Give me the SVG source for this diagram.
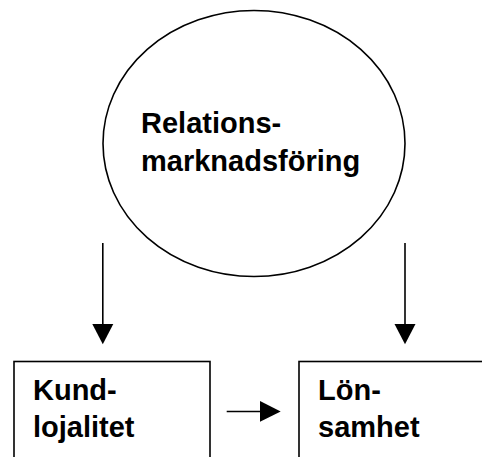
<svg xmlns="http://www.w3.org/2000/svg" width="482" height="457" viewBox="0 0 482 457">
  <style>
    .shape { fill: #ffffff; stroke: #000000; stroke-width: 1.6; }
    .label { font-family: "Liberation Sans", Arial, sans-serif; font-weight: bold; font-size: 29px; fill: #000000; }
    .link { stroke: #000000; stroke-width: 1.6; fill: none; }
    .head { fill: #000000; stroke: none; }
  </style>
  <rect width="482" height="457" fill="#ffffff"/>

  <g id="relationsmarknadsforing">
    <ellipse class="shape" cx="254" cy="143.5" rx="151" ry="133"/>
    <text class="label" x="141" y="133">Relations-</text>
    <text class="label" x="141" y="170.5">marknadsföring</text>
  </g>

  <g id="kundlojalitet">
    <rect class="shape" x="14" y="361.5" width="196" height="110"/>
    <text class="label" x="33" y="400">Kund-</text>
    <text class="label" x="33" y="436.5">lojalitet</text>
  </g>

  <g id="lonsamhet">
    <rect class="shape" x="299" y="361.5" width="200" height="110"/>
    <text class="label" x="318" y="400">Lön-</text>
    <text class="label" x="318" y="436.5">samhet</text>
  </g>

  <g id="connectors">
    <line class="link" x1="102.8" y1="243" x2="102.8" y2="326"/>
    <polygon class="head" points="92.3,324 113.3,324 102.8,344.3"/>
    <line class="link" x1="405" y1="243" x2="405" y2="326"/>
    <polygon class="head" points="394.5,324 415.5,324 405,344.3"/>
    <line class="link" x1="226.7" y1="411.5" x2="262" y2="411.5"/>
    <polygon class="head" points="260,401 260,421.7 280.7,411.5"/>
  </g>
</svg>
